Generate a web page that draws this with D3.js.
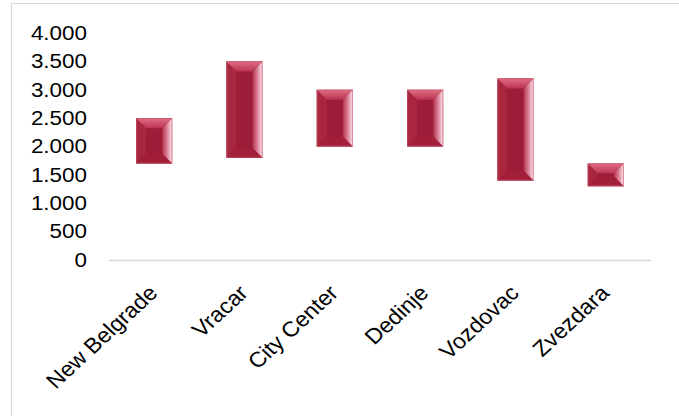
<!DOCTYPE html>
<html>
<head>
<meta charset="utf-8">
<script src="https://cdn.jsdelivr.net/npm/d3@7"></script>
<style>
  body { margin: 0; background: #fff; }
  svg { display: block; }
  text { font-family: "Liberation Sans", Arial, sans-serif; fill: #000; }
</style>
</head>
<body>
<div id="chart"></div>
<script>
'use strict';

// Data
var categories = ['New Belgrade', 'Vracar', 'City Center', 'Dedinje', 'Vozdovac', 'Zvezdara'];
var lowValues = [1700, 1800, 2000, 2000, 1400, 1300];
var highValues = [2500, 3500, 3000, 3000, 3200, 1700];
var yTicks = [0, 500, 1000, 1500, 2000, 2500, 3000, 3500, 4000];

var data = categories.map(function(c, i) {
	return {name: c, low: lowValues[i], high: highValues[i]};
});

var svg = d3.select('#chart').append('svg')
	.attr('width', 679)
	.attr('height', 416);

// Chart frame (cropped on right and bottom)
svg.append('rect')
	.attr('x', 11.5)
	.attr('y', 3.5)
	.attr('width', 700)
	.attr('height', 450)
	.attr('fill', 'none')
	.attr('stroke', '#d9d9d9')
	.attr('stroke-width', 1);

// Dimensions
var margin = {top: 33, left: 109};
var width = 542;
var height = 227;
var g = svg.append('g').attr('transform', 'translate(' + margin.left + ',' + margin.top + ')');

// Scales
var x = d3.scaleBand()
	.range([0, width])
	.paddingInner(0.6)
	.paddingOuter(0.3)
	.domain(categories);
var y = d3.scaleLinear()
	.range([height, 0])
	.domain([0, 4000]);

var fmt = function(v) { return d3.format(',')(v).replace(/,/g, '.'); };

// Gradients
var defs = svg.append('defs');
var gTop = defs.append('linearGradient').attr('id', 'bev-top')
	.attr('x1', 0).attr('y1', 0).attr('x2', 0).attr('y2', 1);
gTop.append('stop').attr('offset', '0%').attr('stop-color', '#e06f85');
gTop.append('stop').attr('offset', '100%').attr('stop-color', '#bb3350');
var gRight = defs.append('linearGradient').attr('id', 'bev-right')
	.attr('x1', 0).attr('y1', 0).attr('x2', 1).attr('y2', 0);
gRight.append('stop').attr('offset', '0%').attr('stop-color', '#b3334f');
gRight.append('stop').attr('offset', '55%').attr('stop-color', '#e08aa0');
gRight.append('stop').attr('offset', '100%').attr('stop-color', '#fff0f5');

// Y axis labels
g.append('g').attr('class', 'axis axis-y')
	.selectAll('text')
	.data(yTicks)
	.enter().append('text')
		.attr('transform', function(d) { return 'translate(-22,' + y(d) + ') scale(1.15,1)'; })
		.attr('dy', '0.35em')
		.attr('text-anchor', 'end')
		.style('font-size', '19.5px')
		.text(fmt);

// X axis line
g.append('line')
	.attr('x1', 0).attr('x2', width)
	.attr('y1', y(0) + 0.5).attr('y2', y(0) + 0.5)
	.attr('stroke', '#d9d9d9')
	.attr('stroke-width', 1.5);

// Bars (floating: low to high)
var bars = g.selectAll('.bar')
	.data(data)
	.enter().append('g')
		.attr('class', 'bar');

bars.each(function(d) {
	var sel = d3.select(this);
	var x0 = x(d.name), x1 = x0 + x.bandwidth();
	var y0 = y(d.high), y1 = y(d.low);
	var b = Math.min(10, (y1 - y0) / 2, (x1 - x0) / 2);
	var pts = function(a) { return a.map(function(p) { return p.join(','); }).join(' '); };

	sel.append('rect')
		.attr('x', x0).attr('y', y0)
		.attr('width', x1 - x0).attr('height', y1 - y0)
		.attr('fill', '#9d1c37');
	// left facet
	sel.append('polygon')
		.attr('points', pts([[x0, y0], [x0 + b, y0 + b], [x0 + b, y1 - b], [x0, y1]]))
		.attr('fill', '#a9263f');
	// bottom facet
	sel.append('polygon')
		.attr('points', pts([[x0, y1], [x0 + b, y1 - b], [x1 - b, y1 - b], [x1, y1]]))
		.attr('fill', '#a21f3a');
	// top facet
	sel.append('polygon')
		.attr('points', pts([[x0, y0], [x1, y0], [x1 - b, y0 + b], [x0 + b, y0 + b]]))
		.attr('fill', 'url(#bev-top)');
	// right facet
	sel.append('polygon')
		.attr('points', pts([[x1, y0], [x1, y1], [x1 - b, y1 - b], [x1 - b, y0 + b]]))
		.attr('fill', 'url(#bev-right)');
	// edge
	sel.append('rect')
		.attr('x', x0 + 0.5).attr('y', y0 + 0.5)
		.attr('width', x1 - x0 - 1).attr('height', y1 - y0 - 1)
		.attr('fill', 'none')
		.attr('stroke', '#c9566d')
		.attr('stroke-opacity', 0.6)
		.attr('stroke-width', 1);
});

// X axis labels
g.append('g').attr('class', 'axis axis-x')
	.selectAll('text')
	.data(categories)
	.enter().append('text')
		.attr('transform', function(d) {
			return 'translate(' + (x(d) + x.bandwidth() / 2 - 1) + ',' + (y(0) + 29) + ') scale(1.08,1) rotate(-45)';
		})
		.attr('text-anchor', 'end')
		.attr('dy', '0.35em')
		.style('font-size', '21.5px')
		.text(function(d) { return d; });
</script>
</body>
</html>
